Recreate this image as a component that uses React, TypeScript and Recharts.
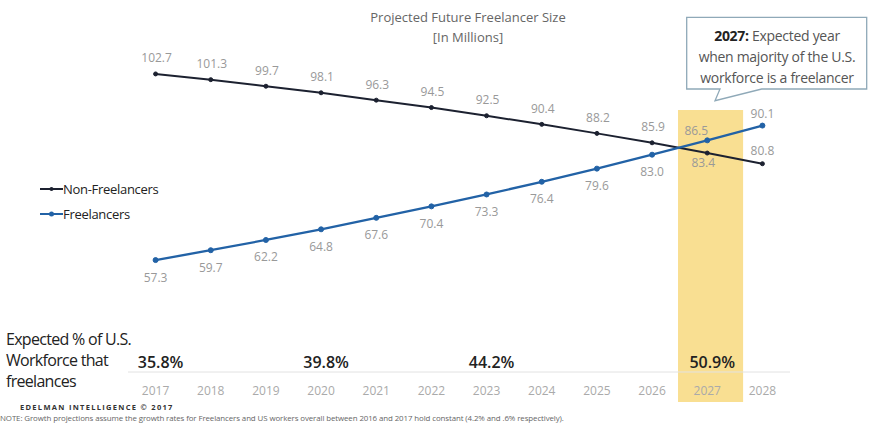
import React from "react";
import {
  LineChart,
  Line,
  XAxis,
  YAxis,
  ReferenceArea,
  ReferenceDot,
  LabelList,
  Legend,
} from "recharts";

const years = [2017, 2018, 2019, 2020, 2021, 2022, 2023, 2024, 2025, 2026, 2027, 2028];
const nonFreelancers = [102.7, 101.3, 99.7, 98.1, 96.3, 94.5, 92.5, 90.4, 88.2, 85.9, 83.4, 80.8];
const freelancers = [57.3, 59.7, 62.2, 64.8, 67.6, 70.4, 73.3, 76.4, 79.6, 83.0, 86.5, 90.1];

const shareYears = [2017, 2020, 2023, 2027];
const shareLabels = ["35.8%", "39.8%", "44.2%", "50.9%"];

const highlightYear = 2027;

const chartData = years.map((year, i) => ({
  year,
  nonFreelancers: nonFreelancers[i],
  freelancers: freelancers[i],
}));

const FONT = "'Open Sans', sans-serif";
const NF_COLOR = "#1c2130";
const F_COLOR = "#2262a6";

// where each value label sits relative to its point
const nfLabelOffset = (year: number) => {
  if (year === 2027) return { dx: -4, dy: 9 };
  if (year === 2028) return { dx: 0, dy: -13 };
  return { dx: 1, dy: -16 };
};
const fLabelOffset = (year: number) => {
  if (year === 2027) return { dx: -11, dy: -10 };
  if (year === 2028) return { dx: 0, dy: -12 };
  return { dx: 0, dy: 17 };
};

const makeLabel = (offset: (year: number) => { dx: number; dy: number }) => (props: any) => {
  const { x, y, value, index } = props;
  const o = offset(years[index]);
  return (
    <text
      x={x + o.dx}
      y={y + o.dy}
      textAnchor="middle"
      dominantBaseline="central"
      fontSize={12}
      fill="#999"
      fontFamily={FONT}
    >
      {Number(value).toFixed(1)}
    </text>
  );
};

const LegendContent = () => (
  <div style={{ fontFamily: FONT, fontSize: 13, color: "#222", letterSpacing: -0.3 }}>
    {[
      { name: "Non-Freelancers", color: NF_COLOR, r: 2 },
      { name: "Freelancers", color: F_COLOR, r: 2.5 },
    ].map((item) => (
      <div key={item.name} style={{ display: "flex", alignItems: "center", height: 25 }}>
        <svg width={23} height={10}>
          <line x1={0} y1={5} x2={23} y2={5} stroke={item.color} strokeWidth={2} />
          <circle cx={11.5} cy={5} r={item.r} fill={item.color} />
        </svg>
        <span>{item.name}</span>
      </div>
    ))}
  </div>
);

export default function App() {
  return (
    <div style={{ position: "absolute", left: 0, top: 0, width: 875, height: 426, background: "#fff", fontFamily: FONT }}>
      <LineChart
        width={875}
        height={426}
        data={chartData}
        margin={{ top: 44, right: 85, left: 128, bottom: 24 }}
      >
        <ReferenceArea
          x1={highlightYear - 0.53}
          x2={highlightYear + 0.65}
          y1={22.7}
          y2={93.9}
          fill="#f9df92"
          fillOpacity={1}
          stroke="none"
          ifOverflow="visible"
        />
        <XAxis
          dataKey="year"
          type="number"
          domain={[2016.5, 2028.5]}
          ticks={years}
          height={30}
          tickLine={false}
          tickMargin={8}
          axisLine={{ stroke: "#e2e2e2" }}
          tick={{ fontSize: 12, fill: "#aaa", fontFamily: FONT }}
        />
        <YAxis hide domain={[30, 110]} />
        <Legend
          layout="horizontal"
          verticalAlign="middle"
          align="center"
          content={<LegendContent />}
          wrapperStyle={{ left: 40, top: 176, width: 160, height: 50 }}
        />
        <Line
          dataKey="nonFreelancers"
          name="Non-Freelancers"
          stroke={NF_COLOR}
          strokeWidth={2}
          dot={{ r: 2, fill: NF_COLOR, stroke: NF_COLOR, strokeWidth: 1 }}
          isAnimationActive={false}
        >
          <LabelList dataKey="nonFreelancers" content={makeLabel(nfLabelOffset)} />
        </Line>
        <Line
          dataKey="freelancers"
          name="Freelancers"
          stroke={F_COLOR}
          strokeWidth={2.3}
          dot={{ r: 2.5, fill: F_COLOR, stroke: F_COLOR, strokeWidth: 1 }}
          isAnimationActive={false}
        >
          <LabelList dataKey="freelancers" content={makeLabel(fLabelOffset)} />
        </Line>
        {shareYears.map((yr, i) => (
          <ReferenceDot
            key={yr}
            x={yr}
            y={32.3}
            r={0}
            ifOverflow="visible"
            label={{
              value: shareLabels[i],
              position: "center",
              dx: 5,
              fontSize: 16,
              fontWeight: 600,
              fill: "#222",
              fontFamily: FONT,
            }}
          />
        ))}
      </LineChart>

      {/* title */}
      <div style={{ position: "absolute", left: 0, width: 936, top: 7, textAlign: "center", fontSize: 13, color: "#666", lineHeight: "20px" }}>
        Projected Future Freelancer Size
        <br />
        [In Millions]
      </div>

      {/* left caption of the share row */}
      <div style={{ position: "absolute", left: 6, top: 329, fontSize: 16, color: "#222", lineHeight: "21px", letterSpacing: -0.7 }}>
        Expected % of U.S.
        <br />
        Workforce that
        <br />
        freelances
      </div>

      {/* callout */}
      <svg style={{ position: "absolute", left: 0, top: 0 }} width={875} height={426} pointerEvents="none">
        <path
          d="M686.7,17.3 H866.7 V89 H761.7 L715,100.7 L720,89 H686.7 Z"
          fill="#fff"
          stroke="#8fa9b8"
          strokeWidth={1.3}
        />
        <g fontFamily={FONT} fontSize={14} fill="#555" textAnchor="middle" letterSpacing={-0.3}>
          <text x={777} y={35} dominantBaseline="central">
            <tspan fontWeight={700} fill="#222">2027:</tspan> Expected year
          </text>
          <text x={777} y={56} dominantBaseline="central">when majority of the U.S.</text>
          <text x={777} y={77} dominantBaseline="central">workforce is a freelancer</text>
        </g>
      </svg>

      {/* footer */}
      <div style={{ position: "absolute", left: 20, top: 402, fontSize: 7.5, fontWeight: 700, letterSpacing: 1.3, color: "#333" }}>
        EDELMAN INTELLIGENCE © 2017
      </div>
      <div style={{ position: "absolute", left: 0, top: 413, fontSize: 7.9, color: "#666", whiteSpace: "nowrap", letterSpacing: -0.1 }}>
        NOTE: Growth projections assume the growth rates for Freelancers and US workers overall between 2016 and 2017 hold constant (4.2% and .6% respectively).
      </div>
    </div>
  );
}
